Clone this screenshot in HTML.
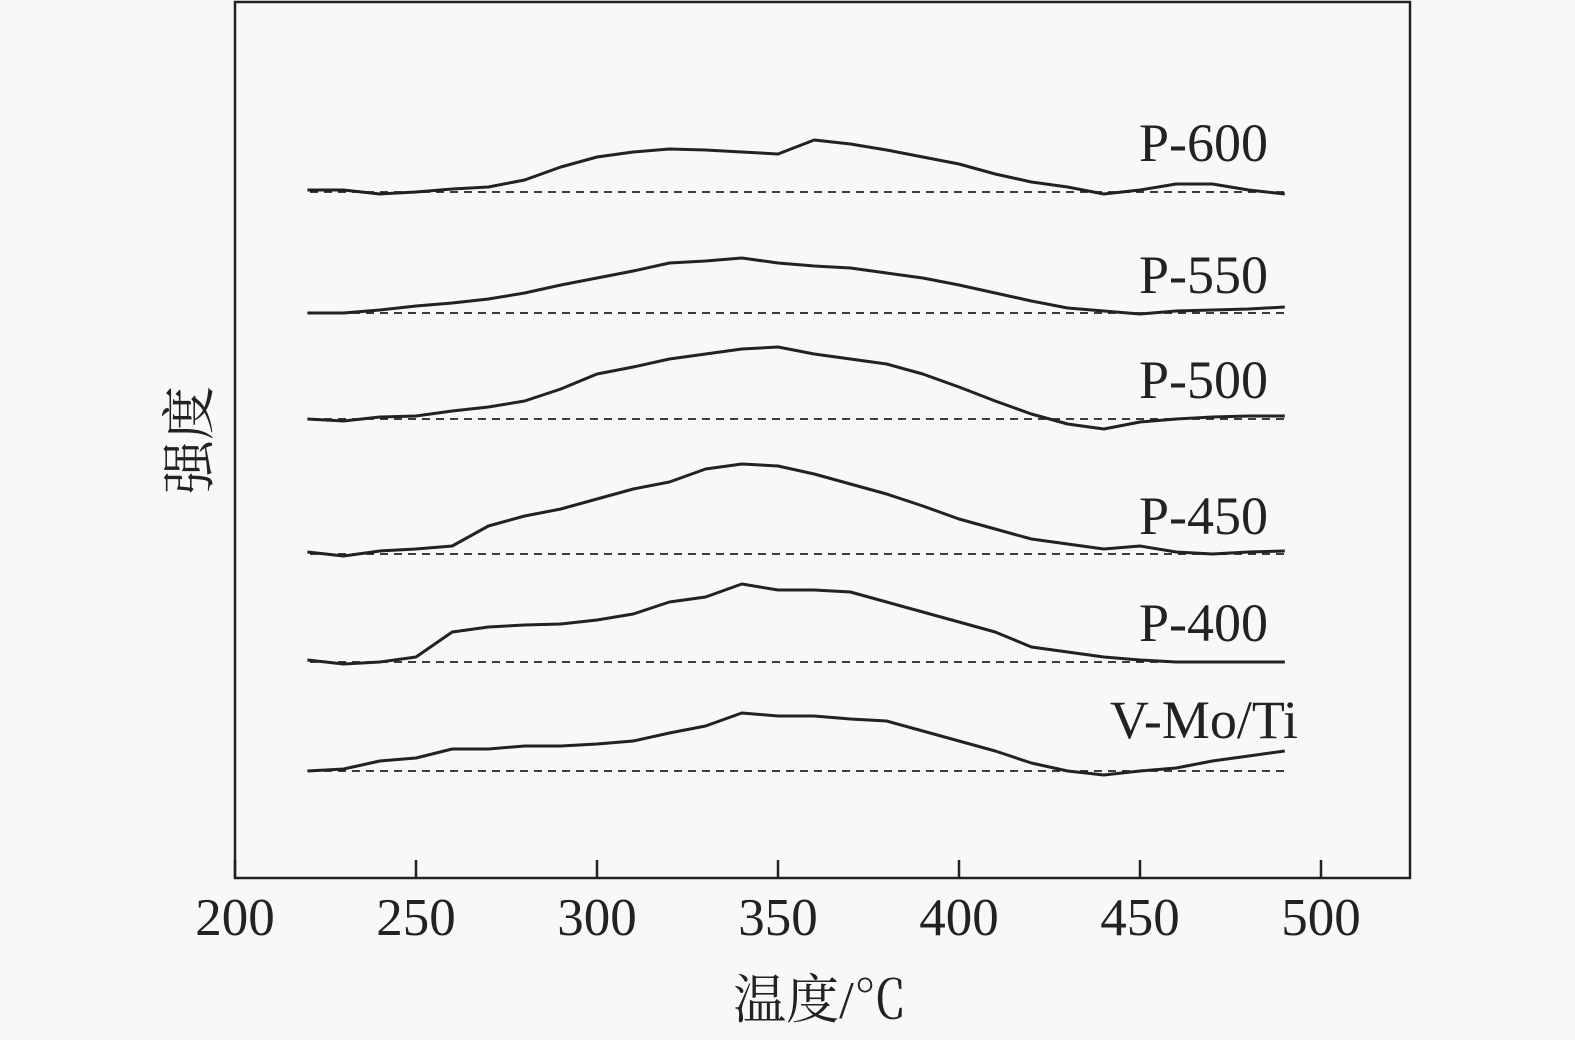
<!DOCTYPE html>
<html><head><meta charset="utf-8"><style>
html,body{margin:0;padding:0;background:#f8f8f8;}
svg{display:block;font-family:"Liberation Serif","Noto Serif CJK SC",serif;}
</style></head><body>
<svg id="chart" width="1575" height="1040" viewBox="0 0 1575 1040">
<rect x="0" y="0" width="1575" height="1040" fill="#f8f8f8"/>
<g id="plot"></g>
<text transform="translate(208,440) rotate(-90)" text-anchor="middle" font-size="54" fill="#222" font-family="'Liberation Serif','Noto Serif CJK SC',serif">强度</text>
<text x="820" y="1018" text-anchor="middle" font-size="53" fill="#222" font-family="'Liberation Serif','Noto Serif CJK SC',serif">温度/℃</text>
</svg>
<script>
const temps=[220,230,240,250,260,270,280,290,300,310,320,330,340,350,360,370,380,390,400,410,420,430,440,450,460,470,480,490];
const seriesNames=["P-600","P-550","P-500","P-450","P-400","V-Mo/Ti"];
const p600=[2,2,-2,0,3,5,12,25,35,40,43,42,40,38,52,48,42,35,28,18,10,5,-2,2,8,8,2,-2];
const p550=[0,0,3,7,10,14,20,28,35,42,50,52,55,50,47,45,40,35,28,20,12,5,2,-1,2,3,4,6];
const p500=[0,-2,2,3,8,12,18,30,45,52,60,65,70,72,65,60,55,45,32,18,5,-5,-10,-3,0,2,3,3];
const p450=[2,-2,3,5,8,28,38,45,55,65,72,85,90,88,80,70,60,48,35,25,15,10,5,8,2,0,2,3];
const p400=[2,-2,0,5,30,35,37,38,42,48,60,65,78,72,72,70,60,50,40,30,15,10,5,2,0,0,0,0];
const vmoti=[0,2,10,13,22,22,25,25,27,30,38,45,58,55,55,52,50,40,30,20,8,0,-4,0,3,10,15,20];
const baselines=[192,313,419,554,662,771];
const xTicks=[200,250,300,350,400,450,500];
const allSeries=[p600,p550,p500,p450,p400,vmoti];
const labelPos=[[1268,161],[1268,293],[1268,398],[1268,534],[1268,641],[1298,738]];

const NS="http://www.w3.org/2000/svg";
const g=document.getElementById('plot');
const X0=235,Y0=878;
function xs(t){return X0+(t-200)*181/50;}
function ys(v,i){return baselines[i]-v;}
function mk(tag,attrs){const e=document.createElementNS(NS,tag);for(const k in attrs)e.setAttribute(k,attrs[k]);g.appendChild(e);return e;}

const frame=mk('rect',{x:X0,y:2,width:1410-X0,height:Y0-2,fill:'none',stroke:'#222','stroke-width':2.5});


xTicks.forEach(t=>{
  const l=mk('line',{x1:xs(t),x2:xs(t),y1:Y0,y2:Y0-18,stroke:'#222','stroke-width':2.5});
  
  
  const tx=mk('text',{x:xs(t),y:935,'text-anchor':'middle','font-size':53,fill:'#222'});
  tx.textContent=t;
  
  
});
allSeries.forEach((s,i)=>{
  const dl=mk('line',{x1:310,x2:1290,y1:baselines[i],y2:baselines[i],stroke:'#222','stroke-width':1.8,'stroke-dasharray':'8 6'});
  
  
  const d=s.map((v,j)=>(j?'L':'M')+xs(temps[j]).toFixed(1)+','+ys(v,i).toFixed(1)).join(' ');
  const p=mk('path',{d:d,fill:'none',stroke:'#222','stroke-width':3,'stroke-linejoin':'round'});
  
  
  const lb=mk('text',{x:labelPos[i][0],y:labelPos[i][1],'text-anchor':'end','font-size':54,fill:'#222'});
  lb.textContent=seriesNames[i];
  
  
});
</script>
</body></html>
